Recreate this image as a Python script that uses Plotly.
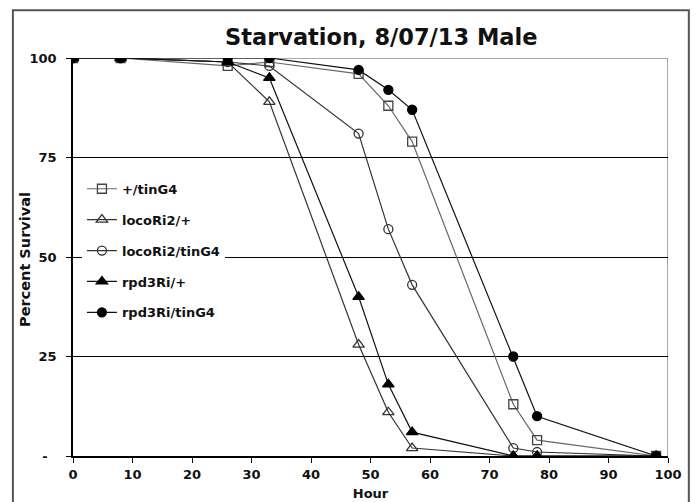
import plotly.graph_objects as go

# Hours of starvation at which survival was scored
hours = [0, 8, 26, 33, 48, 53, 57, 74, 78, 98]

# Percent survival per genotype
plus_tinG4 = [100, 100, 98, 99, 96, 88, 79, 13, 4, 0]
locoRi2_plus = [100, 100, 99, 89, 28, 11, 2, 0, 0, 0]
locoRi2_tinG4 = [100, 100, 99, 98, 81, 57, 43, 2, 1, 0]
rpd3Ri_plus = [100, 100, 99, 95, 40, 18, 6, 0, 0, 0]
rpd3Ri_tinG4 = [100, 100, 100, 100, 97, 92, 87, 25, 10, 0]

y_tickvals = [0, 25, 50, 75, 100]
y_ticktext = ["-\u00a0\u00a0", "25", "50", "75", "100"]

FONT = "DejaVu Sans"
INK = "#111111"

series = [
    ("+/tinG4", plus_tinG4, "square-open", 9, "#666666", "#444444"),
    ("locoRi2/+", locoRi2_plus, "triangle-up-open", 10, "#333333", "#333333"),
    ("locoRi2/tinG4", locoRi2_tinG4, "circle-open", 9, "#333333", "#333333"),
    ("rpd3Ri/+", rpd3Ri_plus, "triangle-up", 10, "#111111", "#000000"),
    ("rpd3Ri/tinG4", rpd3Ri_tinG4, "circle", 9, "#111111", "#000000"),
]

fig = go.Figure()
for i, (name, vals, sym, size, lcol, mcol) in enumerate(series):
    fig.add_trace(go.Scatter(
        x=hours, y=vals, name=name, mode="lines+markers",
        line=dict(color=lcol, width=1.2),
        marker=dict(symbol=sym, size=size, color=mcol,
                    line=dict(color=mcol, width=1.3)),
        legendgroup=f"g{i}",
    ))

fig.update_layout(
    width=697, height=502,
    margin=dict(l=73, r=29, t=58, b=46, autoexpand=False),
    paper_bgcolor="white", plot_bgcolor="white",
    title=dict(text="<b>Starvation, 8/07/13 Male</b>",
               font=dict(family=FONT, size=22.5, color=INK),
               x=0.547, xanchor="center", y=0.926, yanchor="middle"),
    showlegend=True,
    legend=dict(x=0.015, xanchor="left", y=0.709, yanchor="top",
                bgcolor="white", borderwidth=0,
                font=dict(family=FONT, size=13, color=INK, weight="bold"),
                tracegroupgap=11, itemwidth=30, traceorder="grouped"),
    xaxis=dict(range=[0, 100], dtick=10, showgrid=False, automargin=False,
               showline=True, linecolor="black", linewidth=1.5,
               ticks="outside", ticklen=5, tickcolor="black",
               ticklabelstandoff=1,
               tickfont=dict(family=FONT, size=13, color=INK, weight="bold"),
               title=dict(text="<b>Hour</b>", font=dict(family=FONT, size=13, color=INK),
                          standoff=8),
               zeroline=False),
    yaxis=dict(range=[0, 100], tickvals=y_tickvals, ticktext=y_ticktext,
               showgrid=True, gridcolor="black", gridwidth=1, automargin=False,
               showline=True, linecolor="black", linewidth=1.5,
               ticks="outside", ticklen=5, tickcolor="black",
               ticklabelstandoff=7,
               tickfont=dict(family=FONT, size=13, color=INK, weight="bold"),
               zeroline=False),
    annotations=[dict(text="<b>Percent Survival</b>", textangle=-90,
                      xref="paper", yref="paper", x=-0.0807, y=0.495,
                      xanchor="center", yanchor="middle", showarrow=False,
                      font=dict(family=FONT, size=14.5, color=INK))],
)

# Plot-area border on the top and right, in grey
fig.add_shape(type="line", xref="x", yref="y", x0=0, x1=100, y0=100, y1=100,
              line=dict(color="#8a8a8a", width=1.5), layer="below")
fig.add_shape(type="line", xref="x", yref="y", x0=100, x1=100, y0=0, y1=100,
              line=dict(color="#8a8a8a", width=1.5), layer="below")

# Chart frame
fig.add_shape(type="rect", xref="paper", yref="paper",
              x0=-0.101, x1=1.035, y0=-0.15, y1=1.12,
              line=dict(color="#555555", width=2), layer="below")

fig.write_html("out.html")
